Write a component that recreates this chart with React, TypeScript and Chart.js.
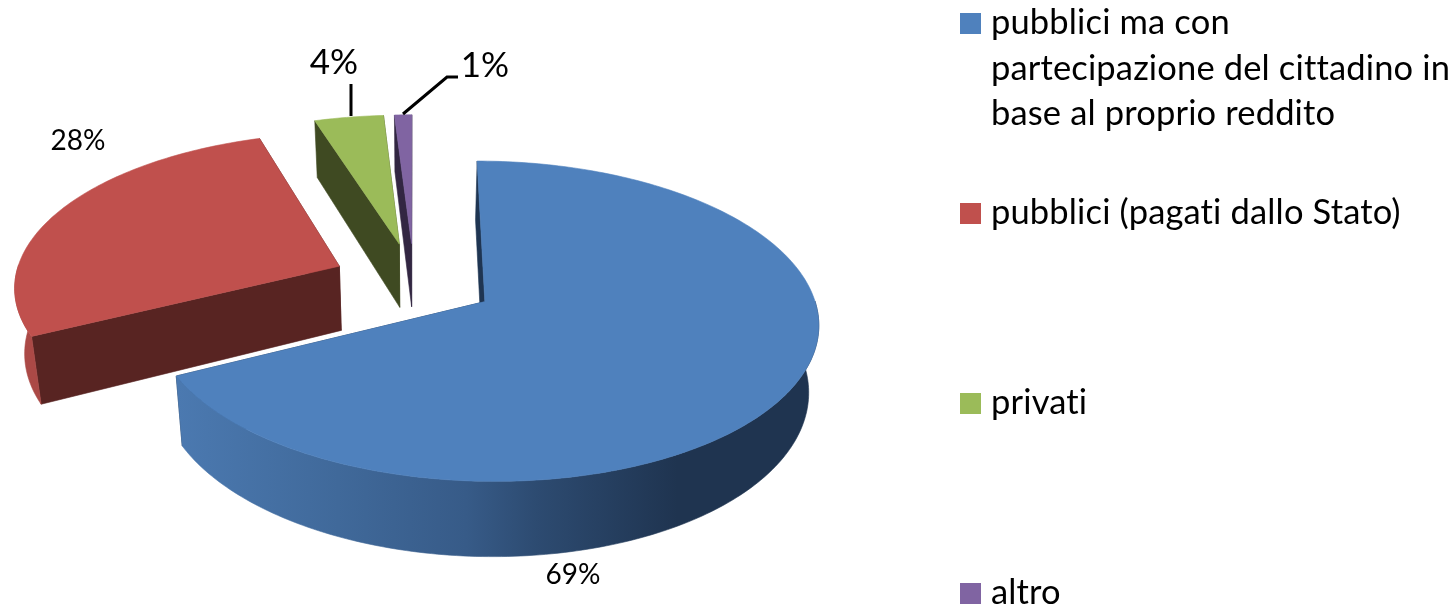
import React, { useEffect, useRef } from "react";
import { Chart, registerables } from "chart.js";

Chart.register(...registerables);

const categories = [
  ["pubblici ma con", "partecipazione del cittadino in", "base al proprio reddito"],
  ["pubblici (pagati dallo Stato)"],
  ["privati"],
  ["altro"],
];
const shares = [69, 28, 4, 1];
const topColors = ["#4f81bd", "#c0504d", "#9bbb59", "#8064a2"];
const faceColors = ["#1f3552", "#582422", "#3f4a22", "#322642"];

const FONT = "Lato, Carlito, sans-serif";
const VIEW = { cx: 414, cy: 281, tilt: 0.47, dist: 2700, depth: 65, taper: 0.975 };
const LEGEND = { x: 960, box: 21, textX: 991, lineH: 45.7, firstTop: [13, 203, 393, 583], size: 34.5 };
const LABELS = [
  { x: 573, y: 575, size: 28 },
  { x: 78, y: 141, size: 28 },
  { x: 334, y: 63, size: 35 },
  { x: 485, y: 66, size: 35 },
];
const LEADERS = [
  [[351, 116], [351, 84]],
  [[403, 114], [447, 77], [458, 77]],
];

type Pt = [number, number];

function project(X: number, Y: number, z = 0): Pt {
  const s = VIEW.dist / (VIEW.dist - Y);
  const t = z ? VIEW.taper : 1;
  return [VIEW.cx + X * s * t, VIEW.cy + VIEW.tilt * Y * s + z * s];
}

function poly(ctx: CanvasRenderingContext2D, pts: Pt[], fill: string | CanvasGradient) {
  ctx.beginPath();
  pts.forEach((p, i) => (i ? ctx.lineTo(p[0], p[1]) : ctx.moveTo(p[0], p[1])));
  ctx.closePath();
  ctx.fillStyle = fill;
  ctx.strokeStyle = fill;
  ctx.lineWidth = 0.6;
  ctx.fill();
  ctx.stroke();
}

function sliceGeometry(arc: any, cx0: number, cy0: number) {
  const mid = (arc.startAngle + arc.endAngle) / 2;
  const off = (arc.options.offset || 0) / 4;
  const ox = arc.x - cx0 + Math.cos(mid) * off;
  const oy = arc.y - cy0 + Math.sin(mid) * off;
  const n = Math.max(4, Math.ceil(((arc.endAngle - arc.startAngle) * 180) / Math.PI));
  const rim: { X: number; Y: number; a: number }[] = [];
  for (let i = 0; i <= n; i++) {
    const a = arc.startAngle + ((arc.endAngle - arc.startAngle) * i) / n;
    rim.push({ X: ox + Math.cos(a) * arc.outerRadius, Y: oy + Math.sin(a) * arc.outerRadius, a });
  }
  return { ox, oy, rim };
}

const pie3d = {
  id: "pie3d",
  beforeDatasetsDraw(chart: any) {
    const { ctx } = chart;
    const arcs = chart.getDatasetMeta(0).data;
    const cx0 = arcs[0].x;
    const cy0 = arcs[0].y;
    const D = VIEW.depth;
    const geos = arcs.map((a: any) => sliceGeometry(a, cx0, cy0));
    ctx.save();
    ctx.fillStyle = "#ffffff";
    ctx.fillRect(0, 0, chart.width, chart.height);

    const wallFill = (i: number) => {
      if (i === 0) {
        const g = ctx.createLinearGradient(178, 0, 818, 0);
        g.addColorStop(0, "#4b79b0");
        g.addColorStop(0.25, "#40699a");
        g.addColorStop(0.45, "#375b88");
        g.addColorStop(0.56, "#2d4b71");
        g.addColorStop(0.78, "#1f3450");
        g.addColorStop(1, "#1f3450");
        return g;
      }
      return i === 1 ? "#ab4946" : faceColors[i];
    };

    for (let i = arcs.length - 1; i >= 0; i--) {
      const { ox, oy, rim } = geos[i];
      const first = rim[0];
      const last = rim[rim.length - 1];
      const radial = (r: { X: number; Y: number }) =>
        poly(ctx, [project(ox, oy), project(r.X, r.Y), project(r.X, r.Y, D), project(ox, oy, D)], faceColors[i]);
      radial(last);
      radial(first);
      const front = rim.filter((r: any) => Math.sin(r.a) > -0.02);
      if (front.length > 1) {
        const pts: Pt[] = [
          ...front.map((r: any) => project(r.X, r.Y)),
          ...front.slice().reverse().map((r: any) => project(r.X, r.Y, D)),
        ];
        poly(ctx, pts, wallFill(i));
      }
    }
    for (let i = 0; i < arcs.length; i++) {
      const { ox, oy, rim } = geos[i];
      poly(ctx, [project(ox, oy), ...rim.map((r: any) => project(r.X, r.Y))], arcs[i].options.backgroundColor);
    }
    ctx.restore();
    return false;
  },
  afterDraw(chart: any) {
    const { ctx } = chart;
    const values = chart.data.datasets[0].data as number[];
    const colors = chart.data.datasets[0].backgroundColor as string[];
    ctx.save();
    ctx.textBaseline = "alphabetic";
    ctx.fillStyle = "#000000";

    (chart.data.labels as string[][]).forEach((lines, i) => {
      const top = LEGEND.firstTop[i];
      ctx.fillStyle = colors[i];
      ctx.fillRect(LEGEND.x, top, LEGEND.box, LEGEND.box);
      ctx.fillStyle = "#000000";
      ctx.textAlign = "left";
      ctx.font = `${LEGEND.size}px ${FONT}`;
      (ctx as any).letterSpacing = "0.15px";
      lines.forEach((line, j) => ctx.fillText(line, LEGEND.textX, top + 21 + j * LEGEND.lineH));
    });
    (ctx as any).letterSpacing = "0px";

    ctx.textAlign = "center";
    ctx.textBaseline = "middle";
    values.forEach((v, i) => {
      ctx.font = `${LABELS[i].size}px ${FONT}`;
      ctx.fillText(`${v}%`, LABELS[i].x, LABELS[i].y);
    });

    ctx.strokeStyle = "#000000";
    ctx.lineWidth = 3;
    LEADERS.forEach((path) => {
      ctx.beginPath();
      path.forEach((p, i) => (i ? ctx.lineTo(p[0], p[1]) : ctx.moveTo(p[0], p[1])));
      ctx.stroke();
    });
    ctx.restore();
  },
};

export default function App() {
  const ref = useRef<HTMLCanvasElement>(null);
  useEffect(() => {
    const chart = new Chart(ref.current!, {
      type: "pie",
      data: {
        labels: categories,
        datasets: [
          {
            data: shares,
            backgroundColor: topColors,
            borderWidth: 0,
            offset: 328,
            radius: 325,
          } as any,
        ],
      },
      options: {
        animation: false,
        responsive: false,
        events: [],
        layout: { padding: 0 },
        plugins: { legend: { display: false }, tooltip: { enabled: false } },
      },
      plugins: [pie3d],
    } as any);
    return () => chart.destroy();
  }, []);
  return (
    <canvas
      ref={ref}
      width={1456}
      height={609}
      style={{ position: "fixed", left: 0, top: 0, display: "block" }}
    />
  );
}
